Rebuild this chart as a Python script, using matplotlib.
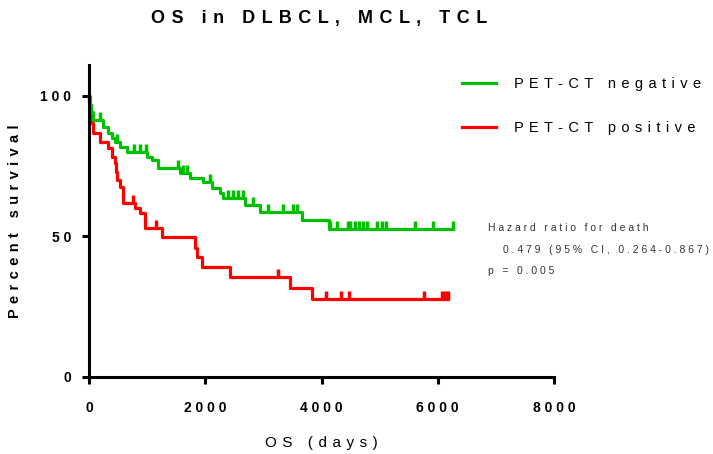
import numpy as np
import matplotlib.pyplot as plt

plt.rcParams['font.family'] = ['Liberation Sans', 'DejaVu Sans']

# PET-CT negative: Kaplan-Meier steps (days, % surviving) and censored times
neg_time = [0, 10, 30, 70, 241, 327, 396, 447, 533, 654, 998, 1084, 1187, 1565,
            1737, 1961, 2116, 2253, 2305, 2683, 2941, 3664, 4128, 6261]
neg_surv = [100, 96.8, 94.3, 91.5, 89.0, 86.8, 85.0, 83.6, 81.9, 80.0, 78.3, 77.2,
            74.4, 72.6, 70.8, 69.4, 67.3, 65.5, 63.7, 61.2, 58.7, 55.9, 52.7, 52.7]
neg_cens = [189, 482, 774, 877, 980, 1531, 1617, 1686, 2081, 2391, 2477, 2563, 2649,
            2821, 3079, 3337, 3509, 3578, 4145, 4266, 4455, 4489, 4575, 4644, 4713,
            4782, 4954, 5040, 5108, 5607, 5917, 6261]

# PET-CT positive
pos_time = [0, 8, 15, 25, 40, 69, 189, 327, 396, 450, 470, 490, 533, 585, 790, 877,
            963, 1256, 1823, 1858, 1944, 2425, 3457, 3836, 6175]
pos_surv = [100, 97, 94, 92, 90.4, 86.8, 83.6, 81.5, 78.3, 76, 73, 70.1, 67.6, 61.9,
            60.1, 58.4, 53.0, 49.8, 45.9, 42.7, 39.1, 35.6, 31.7, 27.8, 27.8]
pos_cens = [757, 1152, 3250, 4076, 4334, 4472, 5762, 6072, 6123, 6175]

labels = ['PET-CT negative', 'PET-CT positive']
xticks = [0, 2000, 4000, 6000, 8000]
yticks = [0, 50, 100]
hr_text = ['Hazard ratio for death', '0.479 (95% CI, 0.264-0.867)', 'p = 0.005']

GREEN = '#00c000'
RED = '#ff0000'
WIDE = ' \u200a'  # wider letter spacing


def spaced(s, gap=' '):
    return gap.join(s)


def at_time(times, surv, t):
    idx = np.searchsorted(times, t, side='right') - 1
    return np.array(surv)[idx]


fig = plt.figure(figsize=(7.13, 4.54), dpi=100)
ax = fig.add_axes([89 / 713, 1 - 377 / 454, 465 / 713, 312 / 454])

lr, = ax.step(pos_time, pos_surv, where='post', color=RED, lw=2.3, clip_on=False)
ax.plot(pos_cens, at_time(pos_time, pos_surv, pos_cens), ls='none', marker=2,
        ms=6, mew=2.5, color=RED, clip_on=False)
lg, = ax.step(neg_time, neg_surv, where='post', color=GREEN, lw=2.3, clip_on=False)
ax.plot(neg_cens, at_time(neg_time, neg_surv, neg_cens), ls='none', marker=2,
        ms=6, mew=2.5, color=GREEN, clip_on=False)

ax.set_xlim(0, 8000)
ax.set_ylim(0, 111)
for side in ['top', 'right']:
    ax.spines[side].set_visible(False)
for side in ['left', 'bottom']:
    ax.spines[side].set_linewidth(2.2)
ax.tick_params(width=2.2, length=5, direction='out')
ax.tick_params(axis='x', pad=12)
ax.tick_params(axis='y', pad=8)
ax.set_xticks(xticks)
ax.set_xticklabels([spaced(str(v)) for v in xticks], fontweight='bold', fontsize=10)
ax.set_yticks(yticks)
ax.set_yticklabels([spaced(str(v)) for v in yticks], fontweight='bold', fontsize=10)

ax.set_xlabel(spaced('OS (days)', WIDE), fontsize=11)
ax.xaxis.set_label_coords(0.5, -0.19)
ax.set_ylabel(spaced('Percent survival', WIDE), fontweight='bold', fontsize=10.5)
ax.yaxis.set_label_coords(-0.144, 0.5)

fig.text(0.447, 1 - 18 / 454, spaced('OS in DLBCL, MCL, TCL', WIDE), ha='center',
         va='center', fontweight='bold', fontsize=13)

ax.legend([lg, lr], [spaced(l, WIDE) for l in labels], loc='upper left',
          bbox_to_anchor=(462 / 713, 1 - 77 / 454), bbox_transform=fig.transFigure,
          frameon=False, fontsize=10.5, handlelength=2.33, handletextpad=1.23,
          labelspacing=2.06, borderpad=0, borderaxespad=0)

fig.text(488 / 713, 1 - 228 / 454, spaced(hr_text[0]), fontsize=7.5, color='#333333', va='center')
fig.text(503 / 713, 1 - 250 / 454, spaced(hr_text[1]), fontsize=7.5, color='#333333', va='center')
fig.text(488 / 713, 1 - 271 / 454, spaced(hr_text[2]), fontsize=7.5, color='#333333', va='center')

fig.savefig('out.png', dpi=100)
